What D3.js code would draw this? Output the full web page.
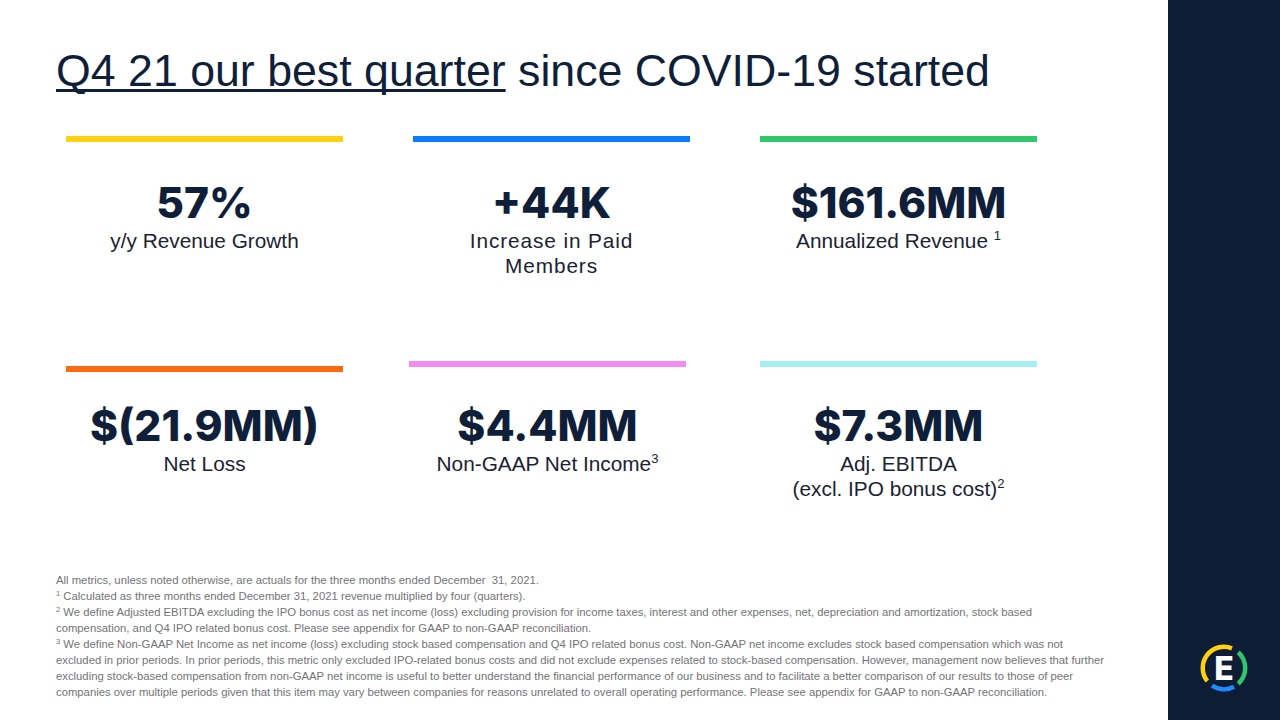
<!DOCTYPE html>
<html>
<head>
<meta charset="utf-8">
<script src="https://cdn.jsdelivr.net/npm/d3@7"></script>
<style>
  html, body { margin: 0; padding: 0; background: #ffffff; }
  svg { display: block; }
</style>
</head>
<body>
<svg id="chart" width="1280" height="720"></svg>
<script>
// ---- data ----
const titleUnderlined = "Q4 21 our best quarter";
const titleRest = " since COVID-19 started";

const metricValues = ["57%", "+44K", "$161.6MM", "$(21.9MM)", "$4.4MM", "$7.3MM"];
const metricLabels = [
  ["y/y Revenue Growth"],
  ["Increase in Paid", "Members"],
  ["Annualized Revenue "],
  ["Net Loss"],
  ["Non-GAAP Net Income"],
  ["Adj. EBITDA", "(excl. IPO bonus cost)"]
];
const metricNotes = ["", "", "1", "", "3", "2"];
const metricColors = ["#ffd10f", "#0a7bff", "#2ec76a", "#ff6a10", "#f28cf2", "#a2eff4"];

const footnoteMarks = ["", "1", "2", "", "3", "", "", ""];
const footnotes = [
  "All metrics, unless noted otherwise, are actuals for the three months ended December  31, 2021.",
  " Calculated as three months ended December 31, 2021 revenue multiplied by four (quarters).",
  " We define Adjusted EBITDA excluding the IPO bonus cost as net income (loss) excluding provision for income taxes, interest and other expenses, net, depreciation and amortization, stock based",
  "compensation, and Q4 IPO related bonus cost. Please see appendix for GAAP to non-GAAP reconciliation.",
  " We define Non-GAAP Net Income as net income (loss) excluding stock based compensation and Q4 IPO related bonus cost. Non-GAAP net income excludes stock based compensation which was not",
  "excluded in prior periods. In prior periods, this metric only excluded IPO-related bonus costs and did not exclude expenses related to stock-based compensation. However, management now believes that further",
  "excluding stock-based compensation from non-GAAP net income is useful to better understand the financial performance of our business and to facilitate a better comparison of our results to those of peer",
  "companies over multiple periods given that this item may vary between companies for reasons unrelated to overall operating performance. Please see appendix for GAAP to non-GAAP reconciliation."
];

const logoSegments = [
  { start: -128, end: 22, color: "#ffd10f" },
  { start: 42, end: 138, color: "#2ec76a" },
  { start: 152, end: 214, color: "#1f8bff" }
];

// ---- drawing ----
const svg = d3.select("#chart");
const W = 1280, H = 720;
const navy = "#0f1f3a";
const textDark = "#1b2233";

svg.append("rect").attr("x", 0).attr("y", 0).attr("width", W).attr("height", H).attr("fill", "#ffffff");
svg.append("rect").attr("x", 1168).attr("y", 0).attr("width", W - 1168).attr("height", H).attr("fill", "#0e1d36");

// title
const title = svg.append("text")
  .attr("x", 56).attr("y", 86)
  .attr("font-family", "'Liberation Sans', Arial, sans-serif")
  .attr("font-size", 44.7)
  .attr("fill", navy);
const tU = title.append("tspan").text(titleUnderlined);
title.append("tspan").text(titleRest);
const uLen = tU.node().getComputedTextLength();
svg.append("rect").attr("x", 56).attr("y", 89).attr("width", uLen).attr("height", 3).attr("fill", navy);

// grid of cards
const row = d3.scaleOrdinal().domain([0, 1]).range([136, 366]);
const cards = metricValues.map((v, i) => ({
  value: v, lines: metricLabels[i], note: metricNotes[i], color: metricColors[i],
  c: i % 3, r: Math.floor(i / 3)
}));
const barW = 277;
const col = d3.scalePoint().domain([0, 1, 2]).range([66 + barW / 2, 1037 - barW / 2]);
const nudgeX = d => (d.r === 1 && d.c === 1 ? -4 : 0);
const nudgeY = d => (d.r === 1 && d.c !== 0 ? -5 : 0);
const textShift = d => (d.r === 1 ? -7 : 0);

const g = svg.selectAll("g.card").data(cards).join("g").attr("class", "card")
  .attr("transform", d => `translate(${col(d.c) + nudgeX(d)},${row(d.r)})`);

g.append("rect")
  .attr("x", -barW / 2).attr("y", d => nudgeY(d)).attr("width", barW).attr("height", 6)
  .attr("fill", d => d.color);

g.append("text")
  .attr("x", 0).attr("y", d => 82 + textShift(d))
  .attr("text-anchor", "middle")
  .attr("font-family", "Inter, 'Noto Sans', sans-serif")
  .attr("font-weight", 800)
  .attr("font-size", 42.5)
  .attr("fill", navy)
  .text(d => d.value);

g.each(function(d) {
  const sel = d3.select(this);
  d.lines.forEach((ln, k) => {
    const t = sel.append("text")
      .attr("x", 0).attr("y", 112 + textShift(d) + k * 25)
      .attr("text-anchor", "middle")
      .attr("font-family", "'Liberation Sans', Arial, sans-serif")
      .attr("font-size", 20.8)
      .attr("fill", textDark)
      .attr("letter-spacing", d.c === 1 && d.r === 0 ? 0.9 : 0);
    t.append("tspan").text(ln);
    if (d.note && k === d.lines.length - 1) {
      t.append("tspan").attr("font-size", 13).attr("dy", -8).text(d.note);
    }
  });
});

// footnotes
const fn = svg.append("g")
  .attr("font-family", "'Liberation Sans', Arial, sans-serif")
  .attr("font-size", 11.3)
  .attr("fill", "#737377");
footnotes.forEach((s, i) => {
  const t = fn.append("text").attr("x", 56).attr("y", 584 + i * 16).attr("xml:space", "preserve");
  if (footnoteMarks[i]) {
    t.append("tspan").attr("font-size", 7.5).attr("dy", -4).text(footnoteMarks[i]);
    t.append("tspan").attr("dy", 4).text(s);
  } else {
    t.append("tspan").text(s);
  }
});

// logo
const logo = svg.append("g").attr("transform", "translate(1224,668)");
const arc = d3.arc().innerRadius(19).outerRadius(23.5);
logo.selectAll("path").data(logoSegments).join("path")
  .attr("d", d => arc({ startAngle: d.start * Math.PI / 180, endAngle: d.end * Math.PI / 180 }))
  .attr("fill", d => d.color);
logo.append("text")
  .attr("x", 0).attr("y", 11.5)
  .attr("text-anchor", "middle")
  .attr("font-family", "Inter, 'Noto Sans', sans-serif")
  .attr("font-weight", 800)
  .attr("font-size", 32)
  .attr("fill", "#ffffff")
  .text("E");
</script>
</body>
</html>
